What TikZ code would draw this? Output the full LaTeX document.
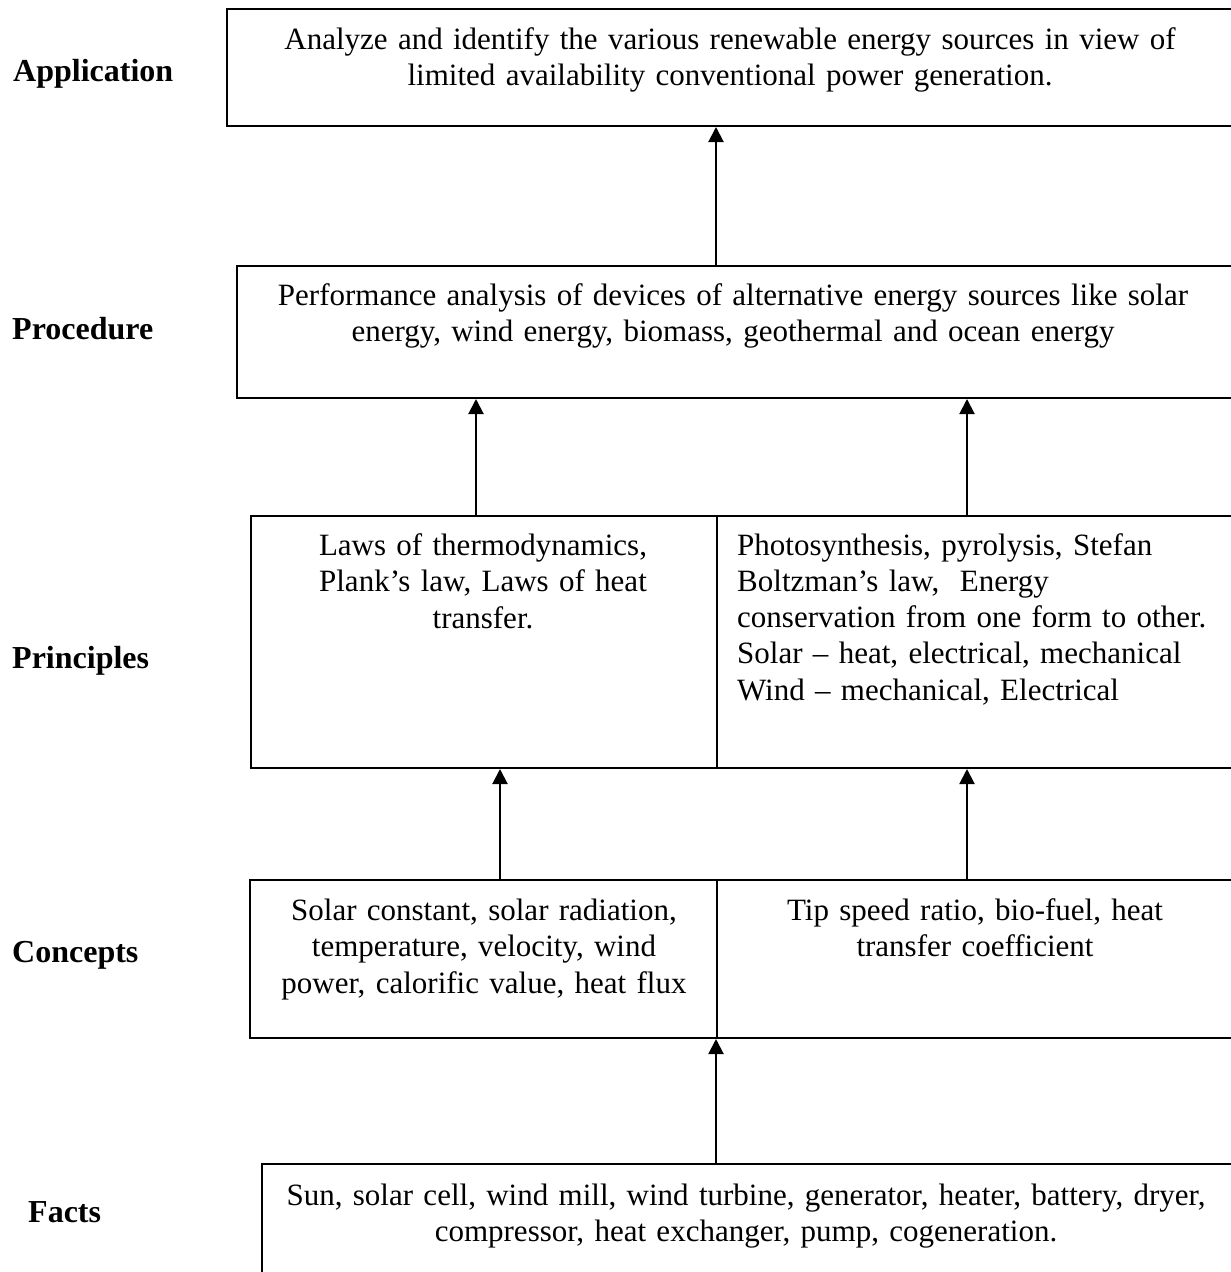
\documentclass[tikz,border=0pt]{standalone}
\usepackage{fontspec}
\setmainfont{Liberation Serif}
\usetikzlibrary{arrows.meta}
\begin{document}
\begin{tikzpicture}[x=1pt,y=-1pt,
  box/.style={draw, line width=2pt, inner sep=0pt, anchor=north west},
  txt/.style={font=\fontsize{31}{36.8}\selectfont, inner sep=0pt, align=center, anchor=base},
  ltxt/.style={font=\fontsize{31}{36.3}\selectfont, inner sep=0pt, align=left, anchor=base west},
  lbl/.style={font=\fontsize{32}{36.8}\selectfont\bfseries, inner sep=0pt, anchor=base west},
  arr/.style={-{Triangle[width=15pt,length=15pt]}, line width=2pt}]
\clip (0,0) rectangle (1231,1272);
\fill[white] (0,0) rectangle (1231,1272);
% boxes
\node[box, minimum width=1030, minimum height=117] (app) at (226,8) {};
\node[box, minimum width=1020, minimum height=132] (proc) at (236,265) {};
\node[box, minimum width=466, minimum height=252] (prinL) at (250,515) {};
\node[box, minimum width=530, minimum height=252] (prinR) at (716,515) {};
\node[box, minimum width=467, minimum height=158] (concL) at (249,879) {};
\node[box, minimum width=530, minimum height=158] (concR) at (716,879) {};
\node[box, minimum width=1000, minimum height=140] (fact) at (261,1163) {};
% arrows
\draw[arr] (716,0 |- proc.north) -- (716,0 |- app.south);
\draw[arr] (476,0 |- prinL.north) -- (476,0 |- proc.south);
\draw[arr] (967,0 |- prinR.north) -- (967,0 |- proc.south);
\draw[arr] (500,0 |- concL.north) -- (500,0 |- prinL.south);
\draw[arr] (967,0 |- concR.north) -- (967,0 |- prinR.south);
\draw[arr] (716,0 |- fact.north) -- (716,0 |- concL.south);
% texts
\node[txt, text width=1000] (appT) at (730,49) {Analyze and identify the various renewable energy sources in view of\\limited availability conventional power generation.};
\node[txt, text width=1000] (procT) at (733,305) {Performance analysis of devices of alternative energy sources like solar\\energy, wind energy, biomass, geothermal and ocean energy};
\node[txt, text width=440] (prinLT) at (483,555) {Laws of thermodynamics,\\Plank’s law, Laws of heat\\transfer.};
\node[ltxt, text width=490] (prinRT) at (737,555) {Photosynthesis, pyrolysis, Stefan\\Boltzman’s law,\ \ Energy\\conservation from one form to other.\\Solar – heat, electrical, mechanical\\Wind – mechanical, Electrical};
\node[txt, text width=460] (concLT) at (484,920) {Solar constant, solar radiation,\\temperature, velocity, wind\\power, calorific value, heat flux};
\node[txt, text width=500] (concRT) at (975,920) {Tip speed ratio, bio-fuel, heat\\transfer coefficient};
\node[txt, text width=960] (factT) at (746,1205) {Sun, solar cell, wind mill, wind turbine, generator, heater, battery, dryer,\\compressor, heat exchanger, pump, cogeneration.};
% labels
\node[lbl] (appL) at (13,81) {Application};
\node[lbl] (procL) at (12,339) {Procedure};
\node[lbl] (prinLb) at (12,668) {Principles};
\node[lbl] (concLb) at (12,962) {Concepts};
\node[lbl] (factL) at (28,1222) {Facts};
\end{tikzpicture}
\end{document}
